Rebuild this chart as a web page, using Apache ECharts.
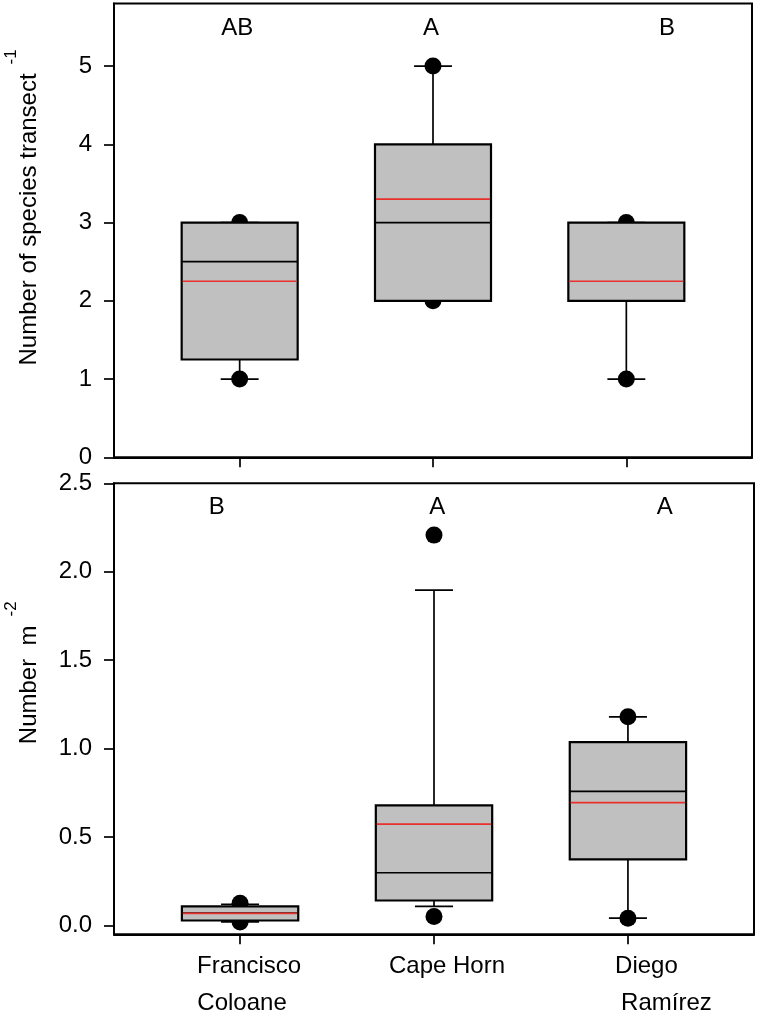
<!DOCTYPE html>
<html><head><meta charset="utf-8">
<script src="https://cdn.jsdelivr.net/npm/echarts@6/dist/echarts.min.js"></script>
<style>html,body{margin:0;padding:0;background:#fff}#c{width:758px;height:1015px}</style>
</head><body><div id="c"></div>
<script>
// ---------- data ----------
const siteLines = [['Francisco', 'Coloane'], ['Cape Horn'], ['Diego', 'Ramírez']];
const sitePos = [1, 2, 3];

// top panel: number of species per transect
const spWhiskerLow  = [1, 2, 1];
const spQ1          = [1.25, 2, 2];
const spMedian      = [2.5, 3, 2];
const spQ3          = [3, 4, 3];
const spWhiskerHigh = [3, 5, 3];
const spMean        = [2.25, 3.3, 2.25];
const spPoints      = [[1, 3], [2, 5], [1, 3]];
const spLetters     = ['AB', 'A', 'B'];
const spTicks       = [0, 1, 2, 3, 4, 5];

// bottom panel: number per m2
const dnWhiskerLow  = [0.02, 0.108, 0.041];
const dnQ1          = [0.028, 0.141, 0.374];
const dnMedian      = [0.07, 0.298, 0.758];
const dnQ3          = [0.108, 0.679, 1.037];
const dnWhiskerHigh = [0.12, 1.896, 1.179];
const dnMean        = [0.068, 0.573, 0.694];
const dnPoints      = [[0.02, 0.125], [0.051, 2.207], [0.041, 1.18]];
const dnLetters     = ['B', 'A', 'A'];
const dnTicks       = [0, 0.5, 1, 1.5, 2, 2.5];

// ---------- layout / style ----------
const FONT = '"Liberation Sans", Arial, Helvetica, sans-serif';
const FS = 24;
const BOX_HALF = 0.3, CAP_HALF = 0.098;
const letterAnchor = [
  { x: [0.987, 1.99, 3.21], y: 5.48 },
  { x: [0.88, 2.017, 3.19], y: 2.363 }
];
const labelShift = [[18, 4], [26], [37, 77]];

function boxData(lo, q1, med, q3, hi, mean) {
  return sitePos.map((x, i) => [x, lo[i], q1[i], med[i], q3[i], hi[i], mean[i]]);
}
function pointData(pts) {
  const out = [];
  pts.forEach((arr, i) => arr.forEach(v => out.push([sitePos[i], v])));
  return out;
}
function letterData(letters, anchor) {
  return letters.map((t, i) => [anchor.x[i], anchor.y, t]);
}

function boxRender(params, api) {
  const x = api.value(0);
  const lo = api.value(1), q1 = api.value(2), med = api.value(3),
        q3 = api.value(4), hi = api.value(5), mean = api.value(6);
  const xc = api.coord([x, q1])[0];
  const xl = api.coord([x - BOX_HALF, q1])[0];
  const xr = api.coord([x + BOX_HALF, q1])[0];
  const cl = api.coord([x - CAP_HALF, q1])[0];
  const cr = api.coord([x + CAP_HALF, q1])[0];
  const y = v => api.coord([x, v])[1];
  const blk = { stroke: '#000', lineWidth: 1.7 };
  const children = [
    { type: 'line', shape: { x1: xc, y1: y(q1), x2: xc, y2: y(lo) }, style: blk },
    { type: 'line', shape: { x1: xc, y1: y(q3), x2: xc, y2: y(hi) }, style: blk },
    { type: 'line', shape: { x1: cl, y1: y(lo), x2: cr, y2: y(lo) }, style: blk },
    { type: 'line', shape: { x1: cl, y1: y(hi), x2: cr, y2: y(hi) }, style: blk },
    { type: 'rect', shape: { x: xl, y: y(q3), width: xr - xl, height: y(q1) - y(q3) },
      style: { fill: '#c0c0c0', stroke: '#000', lineWidth: 2.2 } },
    { type: 'line', shape: { x1: xl, y1: y(med), x2: xr, y2: y(med) }, style: blk },
    { type: 'line', shape: { x1: xl + 1, y1: y(mean), x2: xr - 1, y2: y(mean) },
      style: { stroke: '#e8302c', lineWidth: 1.7 } }
  ];
  return { type: 'group', children };
}

const richLabels = {};
labelShift.forEach((arr, i) => arr.forEach((p, j) => {
  richLabels['l' + i + '_' + j] = { fontSize: FS, fontFamily: FONT, color: '#000', lineHeight: 37,
    align: 'center', padding: [0, 0, 0, p] };
}));

const nameRich = {
  m: { fontSize: FS, fontFamily: FONT, color: '#000', lineHeight: 38, verticalAlign: 'bottom' },
  s: { fontSize: 17, fontFamily: FONT, color: '#000', lineHeight: 17, verticalAlign: 'top', padding: [0, 0, 0, 9] }
};

function xAxisCfg(gi, showLabels) {
  return {
    gridIndex: gi, type: 'value', min: 0.35, max: 3.65,
    axisLine: { show: true, onZero: false, lineStyle: { color: '#000', width: 2 } },
    axisTick: { show: true, customValues: sitePos, length: 10, lineStyle: { color: '#000', width: 1.7 } },
    splitLine: { show: false },
    axisLabel: showLabels ? {
      show: true, customValues: sitePos, margin: 14,
      formatter: v => {
        const i = sitePos.indexOf(v);
        return siteLines[i].map((t, j) => '{l' + i + '_' + j + '|' + t + '}').join('\n');
      },
      rich: richLabels
    } : { show: false }
  };
}

function yAxisCfg(gi, min, max, ticks, dec, name, padL) {
  return {
    gridIndex: gi, type: 'value', min: min, max: max,
    axisLine: { show: true, onZero: false, lineStyle: { color: '#000', width: 2 } },
    axisTick: { show: true, customValues: ticks, length: 10, lineStyle: { color: '#000', width: 1.7 } },
    splitLine: { show: false },
    axisLabel: { show: true, customValues: ticks, margin: 22, fontSize: FS, fontFamily: FONT, color: '#000',
      formatter: v => v.toFixed(dec) },
    name: name, nameLocation: 'middle', nameGap: 73, nameRotate: 90, nameMoveOverlap: false,
    nameTextStyle: { padding: [0, 0, 0, padL], rich: nameRich }
  };
}

const letterLabel = { show: true, position: 'inside', formatter: p => p.value[2],
  fontSize: FS, fontFamily: FONT, color: '#000', opacity: 1 };

const chart = echarts.init(document.getElementById('c'), null, { renderer: 'canvas' });
chart.setOption({
  animation: false,
  backgroundColor: '#fff',
  grid: [
    { left: 114, right: 6, top: 3.5, height: 453.8, show: true, borderColor: '#000', borderWidth: 2,
      backgroundColor: 'transparent', containLabel: false, outerBoundsMode: 'none' },
    { left: 114, right: 4, top: 483.3, height: 451, show: true, borderColor: '#000', borderWidth: 2,
      backgroundColor: 'transparent', containLabel: false, outerBoundsMode: 'none' }
  ],
  xAxis: [xAxisCfg(0, false), xAxisCfg(1, true)],
  yAxis: [
    yAxisCfg(0, 0, 5.8, spTicks, 0, '{m|Number of species transect}{s|-1}', 46),
    yAxisCfg(1, -0.05, 2.5, dnTicks, 1, '{m|Number  m}{s|-2}', 72)
  ],
  series: [
    { type: 'scatter', xAxisIndex: 0, yAxisIndex: 0, z: 1, symbolSize: 17,
      itemStyle: { color: '#000', opacity: 1 }, data: pointData(spPoints) },
    { type: 'scatter', xAxisIndex: 1, yAxisIndex: 1, z: 1, symbolSize: 17,
      itemStyle: { color: '#000', opacity: 1 }, data: pointData(dnPoints) },
    { type: 'custom', xAxisIndex: 0, yAxisIndex: 0, z: 3, renderItem: boxRender,
      data: boxData(spWhiskerLow, spQ1, spMedian, spQ3, spWhiskerHigh, spMean) },
    { type: 'custom', xAxisIndex: 1, yAxisIndex: 1, z: 3, renderItem: boxRender,
      data: boxData(dnWhiskerLow, dnQ1, dnMedian, dnQ3, dnWhiskerHigh, dnMean) },
    { type: 'scatter', xAxisIndex: 0, yAxisIndex: 0, z: 4, symbolSize: 0.1,
      itemStyle: { color: 'rgba(0,0,0,0)', opacity: 1 }, label: letterLabel,
      data: letterData(spLetters, letterAnchor[0]) },
    { type: 'scatter', xAxisIndex: 1, yAxisIndex: 1, z: 4, symbolSize: 0.1,
      itemStyle: { color: 'rgba(0,0,0,0)', opacity: 1 }, label: letterLabel,
      data: letterData(dnLetters, letterAnchor[1]) }
  ]
});
</script></body></html>
